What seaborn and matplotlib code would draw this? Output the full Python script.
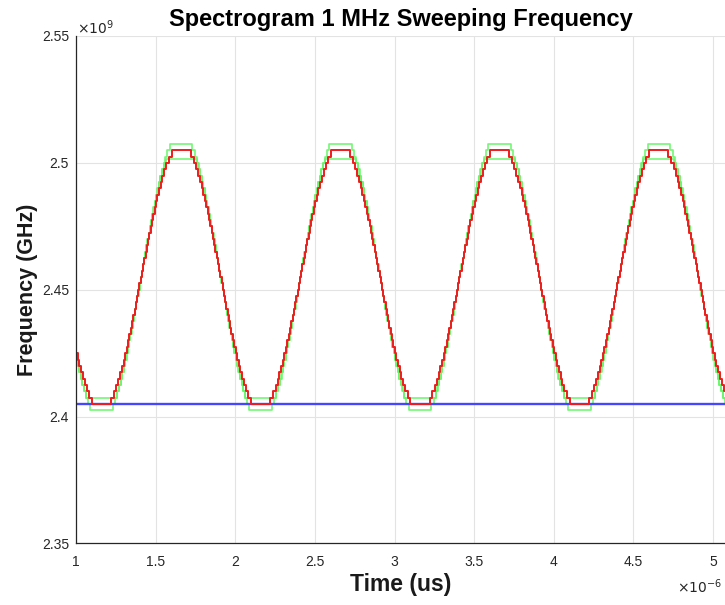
import numpy as np
import pandas as pd
import matplotlib
matplotlib.use("Agg")
import matplotlib.pyplot as plt
import seaborn as sns
from matplotlib.ticker import FuncFormatter, MultipleLocator

# ---- data (time in microseconds, frequency in GHz) ----
# times of the spectrogram minima (trough centres)
trough_times_us = [0.16, 1.16, 2.16, 3.16, 4.16, 5.16]

# red (measured) staircase: time offset from a trough at which level k is reached
red_rise_us = [0.0600, 0.0779, 0.0929, 0.1058, 0.1176, 0.1285, 0.1387, 0.1484,
               0.1576, 0.1666, 0.1752, 0.1836, 0.1918, 0.1999, 0.2078, 0.2156,
               0.2233, 0.2310, 0.2386, 0.2462, 0.2538, 0.2614, 0.2690, 0.2767,
               0.2844, 0.2922, 0.3001, 0.3082, 0.3164, 0.3248, 0.3334, 0.3424,
               0.3516, 0.3613, 0.3715, 0.3824, 0.3942, 0.4071, 0.4221, 0.4400]
red_levels_ghz = [2.4050, 2.4075, 2.4100, 2.4125, 2.4150, 2.4175, 2.4200, 2.4225,
                  2.4250, 2.4275, 2.4300, 2.4325, 2.4350, 2.4375, 2.4400, 2.4425,
                  2.4450, 2.4475, 2.4500, 2.4525, 2.4550, 2.4575, 2.4600, 2.4625,
                  2.4650, 2.4675, 2.4700, 2.4725, 2.4750, 2.4775, 2.4800, 2.4825,
                  2.4850, 2.4875, 2.4900, 2.4925, 2.4950, 2.4975, 2.5000, 2.5025,
                  2.5050]

# upper green bound staircase
upper_rise_us = [0.0975, 0.1091, 0.1198, 0.1297, 0.1391, 0.1480, 0.1566, 0.1649,
                 0.1730, 0.1808, 0.1885, 0.1960, 0.2034, 0.2107, 0.2179, 0.2250,
                 0.2321, 0.2391, 0.2461, 0.2532, 0.2602, 0.2672, 0.2743, 0.2815,
                 0.2886, 0.2959, 0.3033, 0.3108, 0.3184, 0.3263, 0.3343, 0.3426,
                 0.3511, 0.3600, 0.3693, 0.3793, 0.3897, 0.4012, 0.4140, 0.4290]
upper_levels_ghz = [2.4075, 2.4100, 2.4125, 2.4150, 2.4175, 2.4200, 2.4225, 2.4250,
                    2.4275, 2.4300, 2.4325, 2.4350, 2.4375, 2.4400, 2.4425, 2.4450,
                    2.4475, 2.4500, 2.4525, 2.4550, 2.4575, 2.4600, 2.4625, 2.4650,
                    2.4675, 2.4700, 2.4725, 2.4750, 2.4775, 2.4800, 2.4825, 2.4850,
                    2.4875, 2.4900, 2.4925, 2.4950, 2.4975, 2.5000, 2.5025, 2.5050,
                    2.5075]

# lower green bound staircase
lower_rise_us = [0.0710, 0.0860, 0.0988, 0.1103, 0.1207, 0.1307, 0.1400, 0.1489,
                 0.1574, 0.1657, 0.1737, 0.1816, 0.1892, 0.1967, 0.2041, 0.2114,
                 0.2185, 0.2257, 0.2328, 0.2398, 0.2468, 0.2539, 0.2609, 0.2679,
                 0.2750, 0.2821, 0.2893, 0.2966, 0.3040, 0.3115, 0.3192, 0.3270,
                 0.3351, 0.3434, 0.3520, 0.3609, 0.3703, 0.3802, 0.3909, 0.4025]
lower_levels_ghz = [2.4025, 2.4050, 2.4075, 2.4100, 2.4125, 2.4150, 2.4175, 2.4200,
                    2.4225, 2.4250, 2.4275, 2.4300, 2.4325, 2.4350, 2.4375, 2.4400,
                    2.4425, 2.4450, 2.4475, 2.4500, 2.4525, 2.4550, 2.4575, 2.4600,
                    2.4625, 2.4650, 2.4675, 2.4700, 2.4725, 2.4750, 2.4775, 2.4800,
                    2.4825, 2.4850, 2.4875, 2.4900, 2.4925, 2.4950, 2.4975, 2.5000,
                    2.5015]

# blue reference line
blue_level_ghz = 2.405
blue_span_us = [1.0, 5.1]

x_ticks = [1, 1.5, 2, 2.5, 3, 3.5, 4, 4.5, 5]
y_ticks = [2.35, 2.4, 2.45, 2.5, 2.55]


def staircase(rise, levels):
    events = []
    for T in trough_times_us:
        for k, r in enumerate(rise, start=1):
            events.append((T + r, levels[k]))
            events.append((T - r, levels[k - 1]))
    events.sort()
    df = pd.DataFrame(events, columns=["t", "f"])
    return df[(df.t > 0.7) & (df.t < 5.4)]


df_red = staircase(red_rise_us, red_levels_ghz)
df_up = staircase(upper_rise_us, upper_levels_ghz)
df_lo = staircase(lower_rise_us, lower_levels_ghz)
df_blue = pd.DataFrame({"t": blue_span_us, "f": [blue_level_ghz] * 2})

sns.set_style("white")
plt.rcParams["font.family"] = ["Liberation Sans", "DejaVu Sans"]

fig = plt.figure(figsize=(7.25, 6.05), dpi=100)
ax = fig.add_axes([0.1048, 0.1017, 0.8952, 0.8388])

green = "#66f566"
sns.lineplot(data=df_up, x="t", y="f", ax=ax, color=green, lw=1.2, alpha=0.9,
             drawstyle="steps-post", sort=False, estimator=None)
sns.lineplot(data=df_lo, x="t", y="f", ax=ax, color=green, lw=1.2, alpha=0.9,
             drawstyle="steps-post", sort=False, estimator=None)
sns.lineplot(data=df_blue, x="t", y="f", ax=ax, color="#4646ff", lw=1.7,
             sort=False, estimator=None)
sns.lineplot(data=df_red, x="t", y="f", ax=ax, color="#ee1c1c", lw=1.4,
             drawstyle="steps-post", sort=False, estimator=None)

ax.set_xlim(1.0, 5.075)
ax.set_ylim(2.35, 2.55)
ax.set_xticks(x_ticks)
ax.set_yticks(y_ticks)
fmt = FuncFormatter(lambda v, p: f"{v:g}")
ax.xaxis.set_major_formatter(fmt)
ax.yaxis.set_major_formatter(fmt)

ax.grid(True, color="#e3e3e3", lw=0.8)
ax.set_axisbelow(True)
for s in ["top", "right"]:
    ax.spines[s].set_visible(False)
for s in ["left", "bottom"]:
    ax.spines[s].set_color("#262626")
    ax.spines[s].set_linewidth(0.9)
ax.tick_params(direction="in", length=4, width=0.8, colors="#262626",
               labelsize=10, labelcolor="#262626")
ax.tick_params(axis="x", pad=8)
ax.tick_params(axis="y", pad=5)

ax.set_xlabel("Time (us)", fontsize=16.5, fontweight="bold", color="#1a1a1a", labelpad=3)
ax.set_ylabel("Frequency (GHz)", fontsize=15.5, fontweight="bold", color="#1a1a1a", labelpad=2.5)
ax.set_title("Spectrogram 1 MHz Sweeping Frequency", fontsize=17, fontweight="bold",
             color="#000000", pad=7)

fig.text(77 / 725, 1 - 28 / 605, r"$\times10^{9}$", fontsize=10, color="#262626",
         ha="left", va="center")
fig.text(722 / 725, 1 - 587 / 605, r"$\times10^{-6}$", fontsize=10, color="#262626",
         ha="right", va="center")

fig.savefig("out.png", dpi=100)
